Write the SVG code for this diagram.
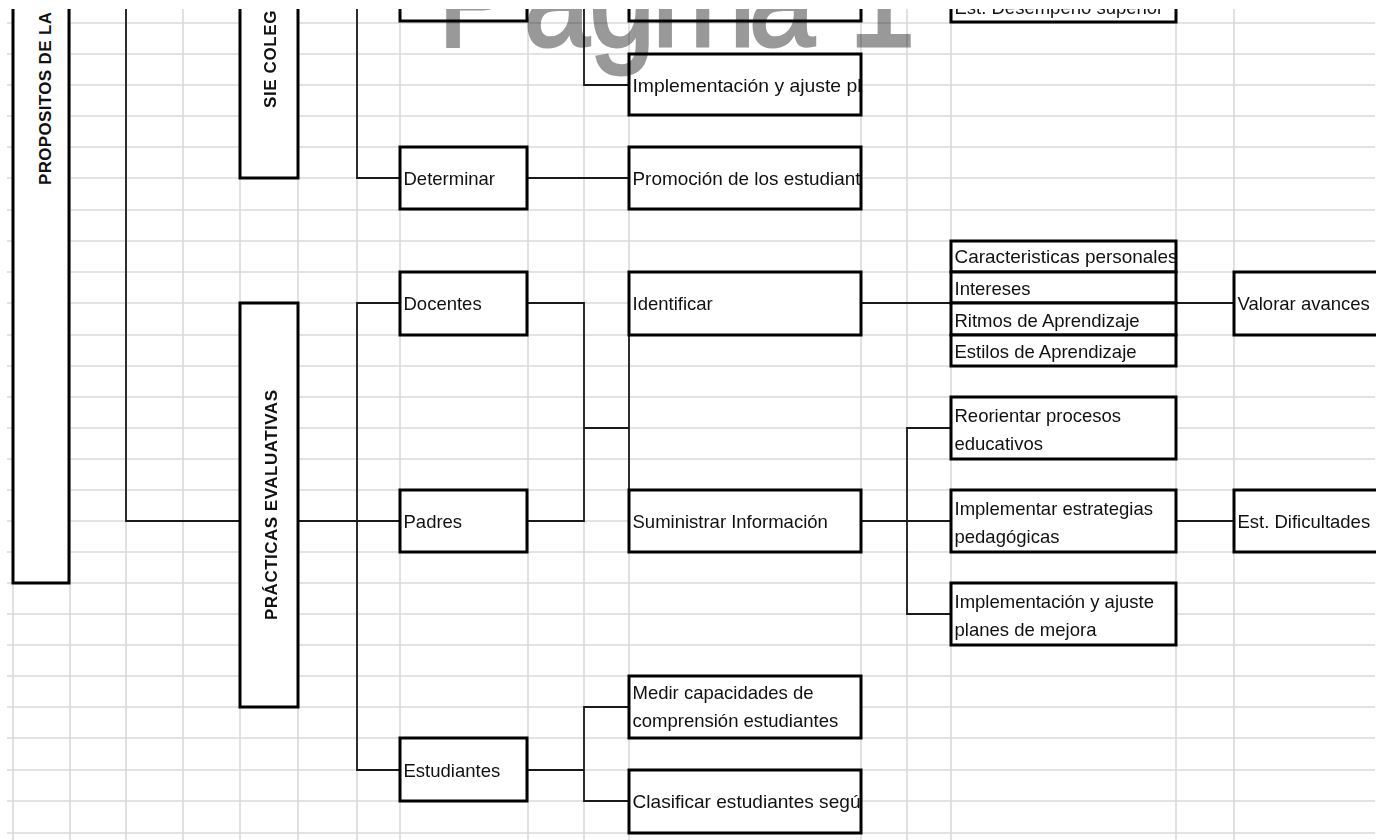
<svg xmlns="http://www.w3.org/2000/svg" width="1386" height="840" viewBox="0 0 1386 840">
<style>
.grid{fill:none;stroke:#dadada;stroke-width:1.6}
.box{fill:#fff;stroke:#000;stroke-width:3}
.c{fill:none;stroke:#1a1a1a;stroke-width:1.8}
.t{font-family:"Liberation Sans",Arial,sans-serif;font-size:18.5px;fill:#111}
.v{font-family:"Liberation Sans",Arial,sans-serif;font-size:17px;font-weight:bold;fill:#111}
.wm{font-family:"Liberation Sans",Arial,sans-serif;font-size:140px;fill:#999;stroke:#999;stroke-width:3}
.mask{fill:#fff}
</style>
<defs>
<clipPath id="view"><rect x="0" y="9" width="1376" height="831"/></clipPath>
</defs>
<rect width="1386" height="840" fill="#fff"/>
<g clip-path="url(#view)">
<path class="grid" d="M7 23H1375M7 54H1375M7 85H1375M7 116H1375M7 147H1375M7 178H1375M7 210H1375M7 241H1375M7 272H1375M7 303H1375M7 335H1375M7 366H1375M7 397H1375M7 428H1375M7 459H1375M7 490H1375M7 521H1375M7 552H1375M7 583H1375M7 614H1375M7 645H1375M7 676H1375M7 707H1375M7 738H1375M7 770H1375M7 801H1375M7 833H1375M13 9V840M70 9V840M126 9V840M183 9V840M240 9V840M298 9V840M357 9V840M400 9V840M528 9V840M584 9V840M629 9V840M861 9V840M907 9V840M951 9V840M1176 9V840M1234 9V840"/>
<g id="connectors">
<path class="c" d="M126 9V521H240"/>
<path class="c" d="M357 9V178H400"/>
<path class="c" d="M584 9V85H629"/>
<path class="c" d="M527 178H629"/>
<path class="c" d="M298 521H400"/>
<path class="c" d="M400 303H357V770H400"/>
<path class="c" d="M527 303H584V521H527"/>
<path class="c" d="M584 428H629"/>
<path class="c" d="M629 335V490"/>
<path class="c" d="M861 303H951"/>
<path class="c" d="M1176 303H1234"/>
<path class="c" d="M861 521H951"/>
<path class="c" d="M951 428H907V614H951"/>
<path class="c" d="M1176 521H1234"/>
<path class="c" d="M527 770H584"/>
<path class="c" d="M629 707H584V801H629"/>
</g>
<g id="n-propositos"><rect class="box" x="13" y="-10" width="56" height="593"/><text class="v" transform="translate(50.5,185) rotate(-90)" textLength="173" lengthAdjust="spacing">PROPOSITOS DE LA</text></g>
<g id="n-sie"><rect class="box" x="240" y="-10" width="58" height="188"/><text class="v" transform="translate(275.5,108) rotate(-90)" letter-spacing="0.6">SIE COLEGI</text></g>
<g id="n-top-a"><rect class="box" x="400" y="-10" width="127" height="31"/></g>
<g id="n-top-b"><rect class="box" x="629" y="-10" width="232" height="31"/></g>
<g id="n-desempeno"><rect class="box" x="951" y="-10" width="225" height="32"/><text class="t" x="954.5" y="14">Est. Desempeño superior</text></g>
<g id="n-impl-top"><rect class="box" x="629" y="54" width="232" height="61"/><text class="t" x="632.5" y="92" textLength="229" lengthAdjust="spacingAndGlyphs">Implementación y ajuste pl</text></g>
<g id="n-determinar"><rect class="box" x="400" y="147" width="127" height="62"/><text class="t" x="403.5" y="185">Determinar</text></g>
<g id="n-promocion"><rect class="box" x="629" y="147" width="232" height="62"/><text class="t" x="632.5" y="185" textLength="228" lengthAdjust="spacingAndGlyphs">Promoción de los estudiant</text></g>
<g id="n-practicas"><rect class="box" x="240" y="303" width="58" height="404"/><text class="v" transform="translate(276.5,505) rotate(-90)" text-anchor="middle" textLength="230" lengthAdjust="spacing">PRÁCTICAS EVALUATIVAS</text></g>
<g id="n-docentes"><rect class="box" x="400" y="272" width="127" height="63"/><text class="t" x="403.5" y="310">Docentes</text></g>
<g id="n-padres"><rect class="box" x="400" y="490" width="127" height="62"/><text class="t" x="403.5" y="528">Padres</text></g>
<g id="n-estudiantes"><rect class="box" x="400" y="738" width="127" height="63"/><text class="t" x="403.5" y="776.5">Estudiantes</text></g>
<g id="n-identificar"><rect class="box" x="629" y="272" width="232" height="63"/><text class="t" x="632.5" y="310">Identificar</text></g>
<g id="n-suministrar"><rect class="box" x="629" y="490" width="232" height="62"/><text class="t" x="632.5" y="528">Suministrar Información</text></g>
<g id="n-caracteristicas"><rect class="box" x="951" y="241" width="225" height="31"/><text class="t" x="954.5" y="263" textLength="223" lengthAdjust="spacingAndGlyphs">Caracteristicas personales</text></g>
<g id="n-intereses"><rect class="box" x="951" y="272" width="225" height="31"/><text class="t" x="954.5" y="295">Intereses</text></g>
<g id="n-ritmos"><rect class="box" x="951" y="303" width="225" height="32"/><text class="t" x="954.5" y="326.5">Ritmos de Aprendizaje</text></g>
<g id="n-estilos"><rect class="box" x="951" y="335" width="225" height="31"/><text class="t" x="954.5" y="358">Estilos de Aprendizaje</text></g>
<g id="n-valorar"><rect class="box" x="1234" y="272" width="160" height="63"/><text class="t" x="1237.5" y="310">Valorar avances</text></g>
<g id="n-reorientar"><rect class="box" x="951" y="397" width="225" height="62"/><text class="t" x="954.5" y="421.5">Reorientar procesos</text><text class="t" x="954.5" y="450">educativos</text></g>
<g id="n-implementar"><rect class="box" x="951" y="490" width="225" height="62"/><text class="t" x="954.5" y="514.5">Implementar estrategias</text><text class="t" x="954.5" y="543">pedagógicas</text></g>
<g id="n-dificultades"><rect class="box" x="1234" y="490" width="160" height="62"/><text class="t" x="1237.5" y="528">Est. Dificultades</text></g>
<g id="n-implementacion"><rect class="box" x="951" y="583" width="225" height="62"/><text class="t" x="954.5" y="607.5">Implementación y ajuste</text><text class="t" x="954.5" y="636">planes de mejora</text></g>
<g id="n-medir"><rect class="box" x="629" y="676" width="232" height="62"/><text class="t" x="632.5" y="698.5">Medir capacidades de</text><text class="t" x="632.5" y="727">comprensión estudiantes</text></g>
<g id="n-clasificar"><rect class="box" x="629" y="770" width="232" height="63"/><text class="t" x="632.5" y="807.5" textLength="228" lengthAdjust="spacingAndGlyphs">Clasificar estudiantes segú</text></g>
<g id="watermark" style="mix-blend-mode:multiply"><text class="wm" transform="scale(0.85 1)" x="515.1 616.2 693.1 767.3 810.8 880.9 950 998.9" y="46">Página 1</text></g>
</g>
<rect class="mask" x="0" y="0" width="1386" height="9"/>
<rect class="mask" x="1376" y="0" width="10" height="840"/>
</svg>
